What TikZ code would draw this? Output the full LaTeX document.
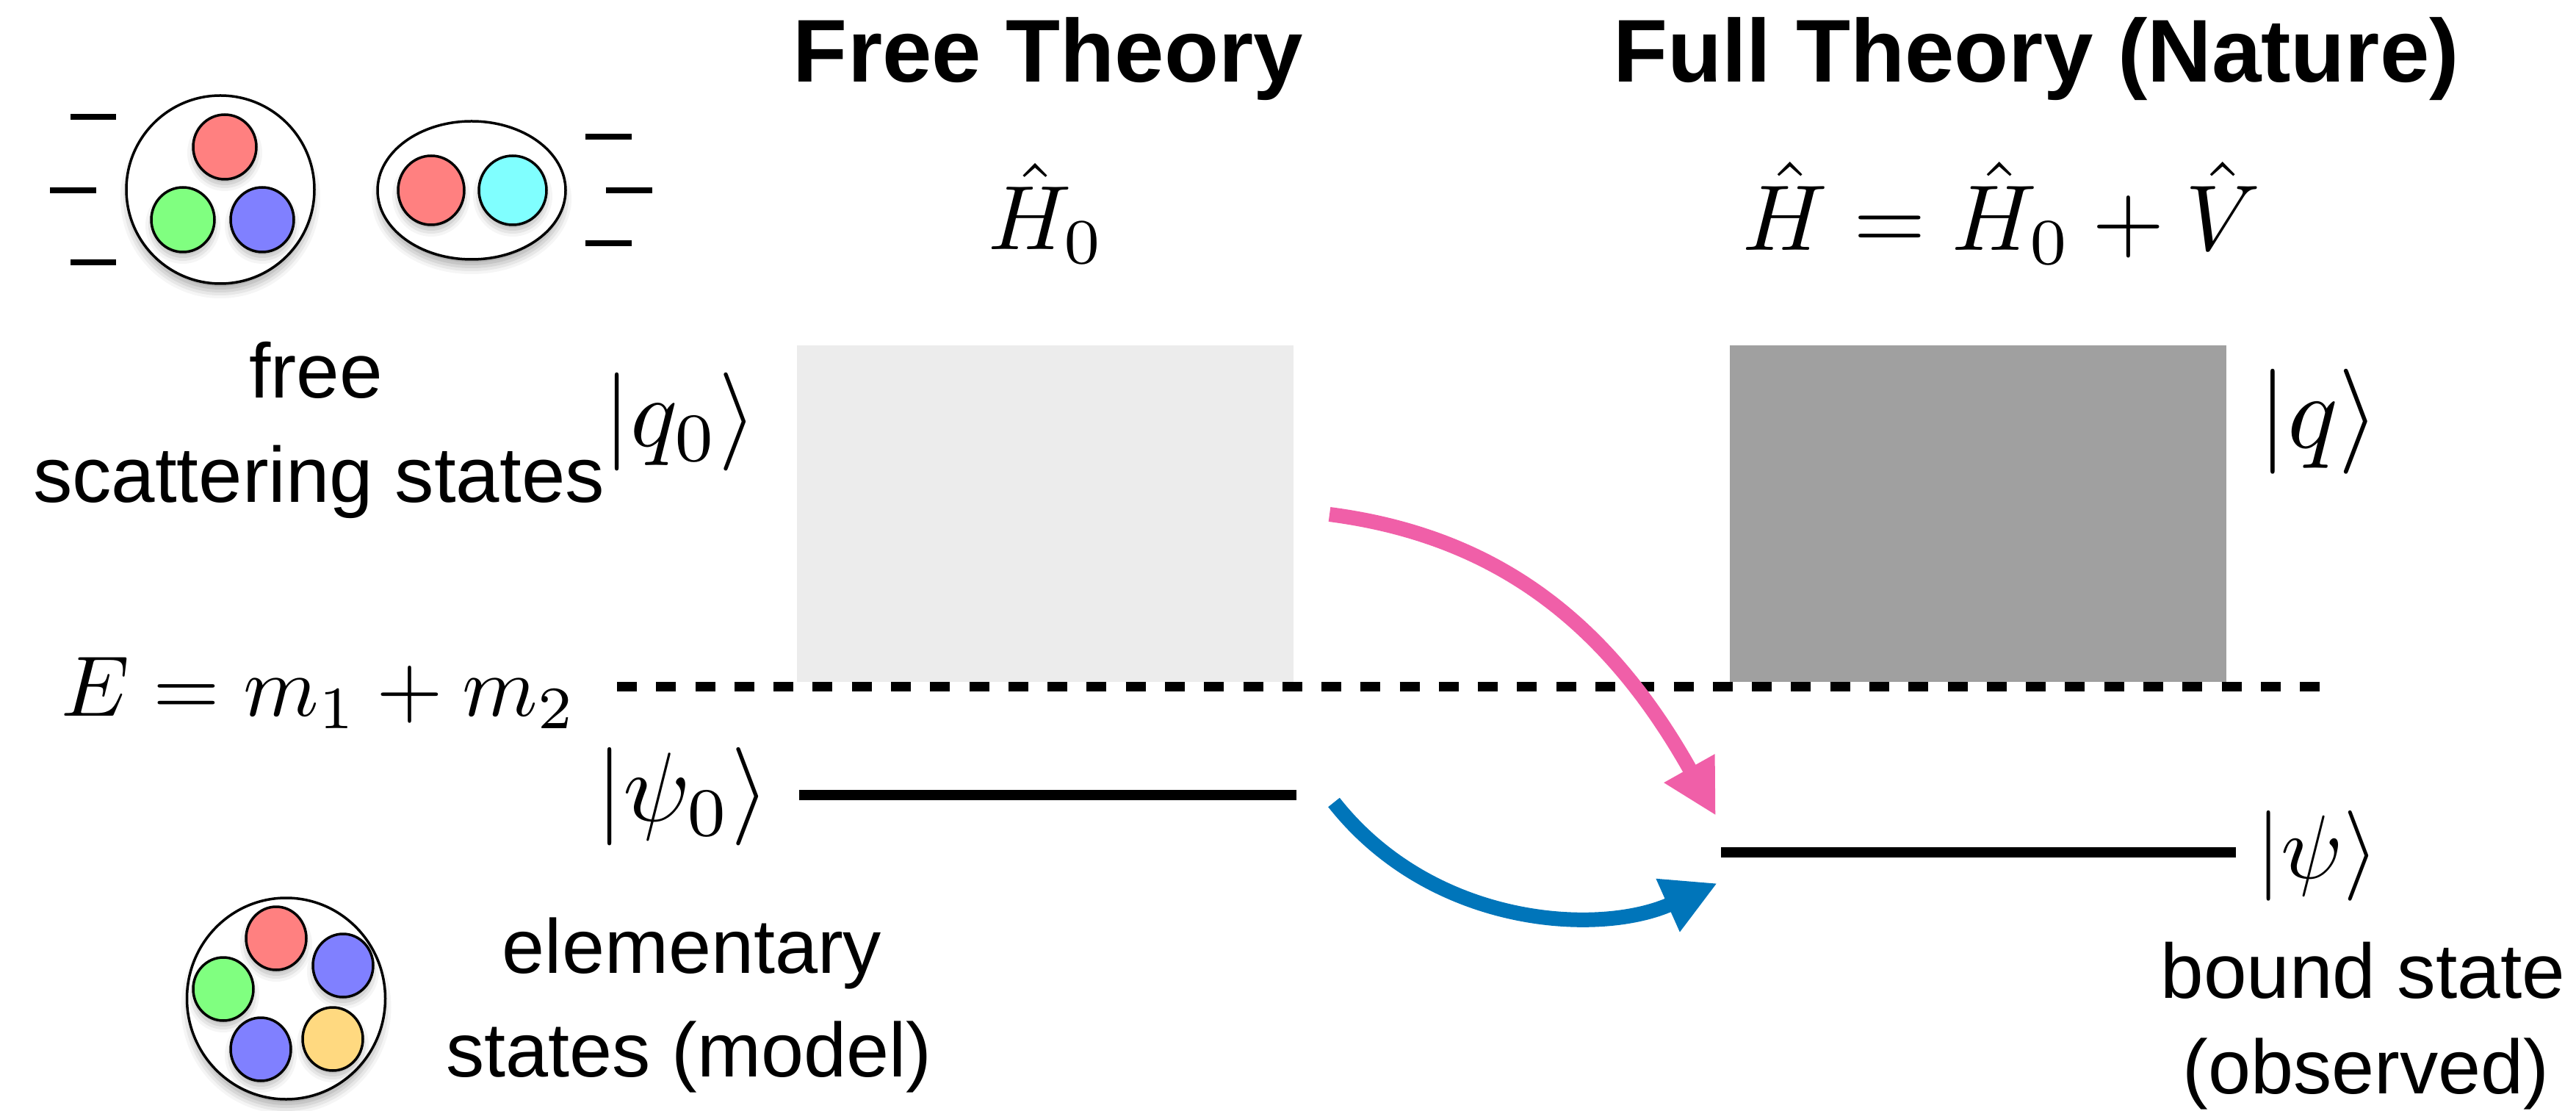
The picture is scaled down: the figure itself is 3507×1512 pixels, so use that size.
\documentclass[tikz,border=0pt]{standalone}
\usepackage{fontspec}
\setmainfont{Liberation Sans}
\usetikzlibrary{arrows.meta,shapes.geometric}
\definecolor{lightgreybox}{HTML}{ECECEC}
\definecolor{darkgreybox}{HTML}{A0A0A0}
\definecolor{arrowpink}{HTML}{F05FA8}
\definecolor{arrowblue}{HTML}{0075BA}
\definecolor{ballred}{HTML}{FF8080}
\definecolor{ballgreen}{HTML}{80FF80}
\definecolor{ballblue}{HTML}{8080FF}
\definecolor{ballcyan}{HTML}{80FFFF}
\definecolor{ballyellow}{HTML}{FFD980}
\newlength{\pxu}
\setlength{\pxu}{0.1mm}
\tikzset{
  x=0.1mm, y=-0.1mm,
  titletext/.style={anchor=base, inner sep=0pt, font=\fontsize{34.5}{40}\selectfont\bfseries},
  labeltext/.style={anchor=base, inner sep=0pt, font=\fontsize{30}{36}\selectfont},
  mathtext/.style={inner sep=0pt, scale=3.8},
  levelline/.style={line width=14*\pxu},
  tickmark/.style={line width=8.4*\pxu},
  dashline/.style={line width=13*\pxu, dash pattern=on 7.68pt off 7.48pt},
  pinkarrow/.style={draw=arrowpink, line width=20*\pxu, -{Triangle[length=21pt,width=21pt]}},
  bluearrow/.style={draw=arrowblue, line width=20*\pxu, -{Triangle[length=21pt,width=21pt]}},
}
\newcommand{\softball}[7]{% name, x, y, rx, ry, colour, shadow offset
  \foreach \k/\o in {8/0.04,4/0.06,0/0.07,-4/0.08,-8/0.09}{
    \fill[black,opacity=\o] (#2,#3+#7) ellipse [x radius={(#4+\k)*\pxu}, y radius={(#5+\k)*\pxu}];
  }
  \node[ellipse, draw=black, line width=3.5*\pxu, fill=#6, inner sep=0pt,
        minimum width={2*#4*\pxu}, minimum height={2*#5*\pxu}] (#1) at (#2,#3) {};
}
\begin{document}
\begin{tikzpicture}
\useasboundingbox (0,0) rectangle (3507,1512);
% titles
\node[titletext] (freetitle) at (1427,112) {Free Theory};
\node[titletext] (fulltitle) at (2772,112) {Full Theory (Nature)};
\node[mathtext,scale=0.93] (hzero) at (1425,290) {$\hat{H}_0$};
\node[mathtext,scale=0.95] (hfull) at (2725,290) {$\hat{H}=\hat{H}_0+\hat{V}$};
% bands
\fill[lightgreybox] (1085,470) rectangle (1761,928);
\fill[darkgreybox] (2355,470) rectangle (3031,928);
% threshold
\coordinate (dashL) at (840,934.5);
\coordinate (dashR) at (3163,934.5);
\draw[dashline] (dashL) -- (dashR);
% levels
\coordinate (lvlAL) at (1088,1082);
\coordinate (lvlAR) at (1765,1082);
\coordinate (lvlBL) at (2343,1160);
\coordinate (lvlBR) at (3044,1160);
\draw[levelline] (lvlAL) -- (lvlAR);
\draw[levelline] (lvlBL) -- (lvlBR);
% arrows
\coordinate (pinkS) at (1810,700);
\coordinate (pinkE) at (2336,1110);
\coordinate (blueS) at (1816,1092);
\coordinate (blueE) at (2338,1202);
\draw[pinkarrow] (pinkS) .. controls (2040,730) and (2190,850) .. (pinkE);
\draw[bluearrow] (blueS) .. controls (1950,1262) and (2177,1274) .. (blueE);
% math labels
\node[mathtext] (qzero) at (926,574) {$|q_0\rangle$};
\node[mathtext,scale=1.07] (qfull) at (3157,574) {$|q\rangle$};
\node[mathtext,scale=0.875] (energy) at (434,943) {$E=m_1+m_2$};
\node[mathtext] (psizero) at (929,1084) {$|\psi_0\rangle$};
\node[mathtext,scale=0.92] (psifull) at (3155,1165) {$|\psi\rangle$};
% text labels
\node[labeltext] (free1) at (430,542) {free};
\node[labeltext,font=\fontsize{30.4}{36}\selectfont] (free2) at (434,684) {scattering states};
\node[labeltext,font=\fontsize{29.7}{36}\selectfont] (elem1) at (942,1324) {elementary};
\node[labeltext,font=\fontsize{29.7}{36}\selectfont] (elem2) at (938,1465) {states (model)};
\node[labeltext] (bound1) at (3217,1358) {bound state};
\node[labeltext,font=\fontsize{29.7}{36}\selectfont] (bound2) at (3221,1488) {(observed)};
% baryon
\softball{baryon}{300}{258}{128}{128}{white}{12}
\softball{baryonR}{306}{200}{43}{44}{ballred}{8}
\softball{baryonG}{249}{299}{43}{44}{ballgreen}{8}
\softball{baryonB}{357}{299}{43}{44}{ballblue}{8}
% meson
\softball{meson}{642}{259}{128}{94}{white}{12}
\softball{mesonR}{587}{259}{45}{47}{ballred}{8}
\softball{mesonC}{698}{259}{46}{47}{ballcyan}{8}
% ticks
\draw[tickmark] (96,159) -- (158,159);
\draw[tickmark] (68,259) -- (131,259);
\draw[tickmark] (96,357) -- (158,357);
\draw[tickmark] (797,186) -- (860,186);
\draw[tickmark] (825,259) -- (888,259);
\draw[tickmark] (797,331) -- (860,331);
% pentaquark
\softball{penta}{389.5}{1359}{135}{137}{white}{12}
\softball{pentaR}{376}{1277}{41}{43}{ballred}{8}
\softball{pentaB}{467}{1314}{41}{43}{ballblue}{8}
\softball{pentaG}{304}{1346}{41}{43}{ballgreen}{8}
\softball{pentaC}{355}{1428}{41}{43}{ballblue}{8}
\softball{pentaY}{453}{1414}{41}{43}{ballyellow}{8}
\end{tikzpicture}
\end{document}
